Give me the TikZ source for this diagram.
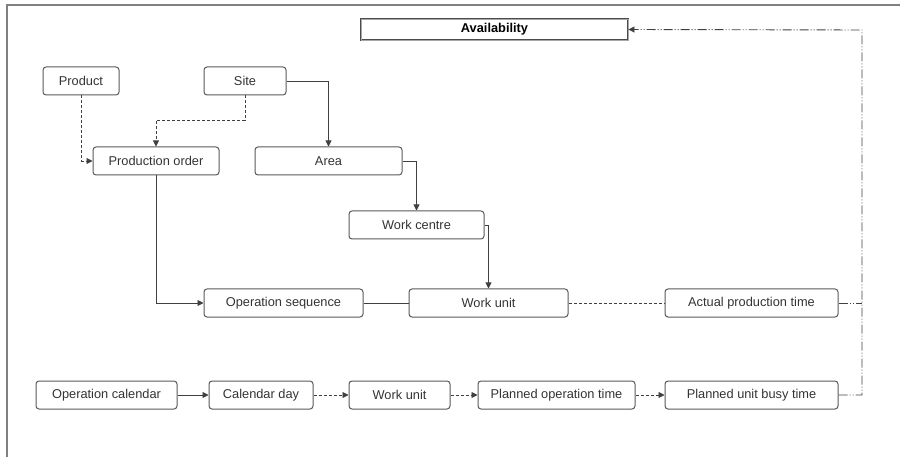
\documentclass[tikz,border=0pt]{standalone}
\usepackage{fontspec}
\setmainfont{Liberation Sans}
\usetikzlibrary{arrows.meta}
\begin{document}
\begin{tikzpicture}[x=1pt, y=-1pt,
    entity/.style={draw=black!65, line width=1pt, rounded corners=3pt, minimum height=28pt, inner sep=0pt, text=black!80, font=\fontsize{12.8}{14}\selectfont},
    link/.style={draw=black!75, line width=0.9pt, -{Triangle[length=6pt, width=6pt]}},
    dotlink/.style={link, dash pattern=on 3pt off 2pt},
    dashdotdot/.style={link, dash pattern=on 9pt off 2pt on 1pt off 2pt on 1pt off 2pt}]
      \useasboundingbox (0,0) rectangle (900,457);
      % frame
      \draw[black!50, line width=1.5pt] (7,457) -- (7,5) -- (900,5);
      \coordinate (bend) at (862,30);
      % top area
      \node[draw=black!70, line width=0.9pt, double=black!35, double distance=0.8pt, minimum width=267pt, minimum height=21pt, inner sep=0pt, font=\fontsize{12.8}{14}\selectfont\bfseries] (avail) at (494.5,29.5) {Availability};
      \node[entity, minimum width=76pt] (product) at (81,81) {Product};
      \node[entity, minimum width=82pt] (site) at (245,81) {Site};
      \node[entity, minimum width=126pt] (order) at (156,161) {Production order};
      \node[entity, minimum width=147pt] (area) at (328.5,161) {Area};
      \node[entity, minimum width=135pt] (centre) at (416.5,225) {Work centre};
      \node[entity, minimum width=159pt] (sequence) at (283.5,303) {Operation sequence};
      \node[entity, minimum width=159pt] (unit) at (488.5,303) {Work unit};
      \node[entity, minimum width=173pt] (actual) at (751.5,303) {Actual production time};
      % bottom row
      \node[entity, minimum width=141pt] (calendar) at (106.5,395) {Operation calendar};
      \node[entity, minimum width=104pt] (day) at (261,395) {Calendar day};
      \node[entity, minimum width=101pt] (unitb) at (399.5,395) {Work unit};
      \node[entity, minimum width=157pt] (planned) at (556.5,395) {Planned operation time};
      \node[entity, minimum width=173pt] (busy) at (751.5,395) {Planned unit busy time};
      % connectors
      \draw[dotlink] (product.south) |- (order.west);
      \draw[dotlink] (site.south) -- ++(0,25) -| (order.north);
      \draw[link] (site.east) -| (area.north);
      \draw[link] (area.east) -| (centre.north);
      \draw[link] (centre.east) -| (unit.north);
      \draw[link] (order.south) |- (sequence.west);
      \draw[link, -] (sequence.east) -- (unit.west);
      \draw[dotlink, -] (unit.east) -- (actual.west);
      \draw[dashdotdot, -] (actual.east) -- (actual.east -| bend);
      \draw[dashdotdot] (busy.east) -| (bend) -- (avail.east);
      \draw[link] (calendar.east) -- (day.west);
      \draw[dotlink] (day.east) -- (unitb.west);
      \draw[dotlink] (unitb.east) -- (planned.west);
      \draw[dotlink] (planned.east) -- (busy.west);
\end{tikzpicture}
\end{document}
